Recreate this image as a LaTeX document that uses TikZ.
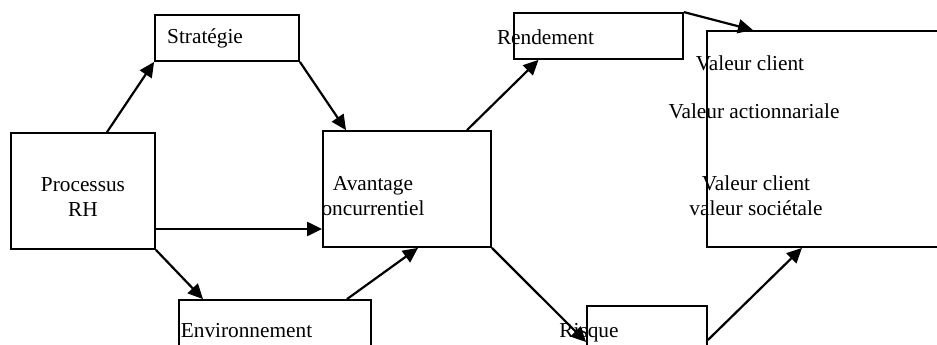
\documentclass[tikz,border=0pt]{standalone}
\usepackage{fontspec}
\setmainfont{Liberation Serif}
\usetikzlibrary{arrows.meta}
\tikzset{
  box/.style={draw=black, line width=1.8pt, rectangle, inner sep=0pt, fill=none},
  lbl/.style={inner sep=0pt, font=\fontsize{21.3pt}{25pt}\selectfont, align=center},
  arr/.style={line width=2.2pt, -{Triangle[length=15pt,width=14pt]}}
}
\begin{document}
\begin{tikzpicture}[x=1pt,y=-1pt]
\useasboundingbox (0,0) rectangle (937,345);
\fill[white] (0,0) rectangle (937,345);
\begin{scope}
\clip (0,0) rectangle (937,345);
% boxes
\node[box, minimum width=144pt, minimum height=116pt] (proc) at (83,191) {};
\node[box, minimum width=144pt, minimum height=46pt] (strat) at (227,38) {};
\node[box, minimum width=192pt, minimum height=70pt] (env) at (275,335) {};
\node[box, minimum width=168pt, minimum height=116pt] (avant) at (407,189) {};
\node[box, minimum width=169pt, minimum height=46pt] (rend) at (598.5,36) {};
\node[box, minimum width=120pt, minimum height=74pt] (risq) at (647,343) {};
\node[box, minimum width=260pt, minimum height=216pt] (val) at (837,139) {};
% texts
\node[lbl, anchor=west] (tstrat) at (167,38) {Stratégie};
\node[lbl] (tproc) at (83,197) {Processus\\RH};
\node[lbl] (tavant) at (373,196) {Avantage\\oncurrentiel};
\node[lbl] (trend) at (545.5,37) {Rendement};
\node[lbl] (tenv) at (246.5,331) {Environnement};
\node[lbl] (trisq) at (589,333) {Risque};
\node[lbl] (tv1) at (750,63) {Valeur client};
\node[lbl] (tv2) at (754,111) {Valeur actionnariale};
\node[lbl] (tv3) at (756,196) {Valeur client\\valeur sociétale};
% arrows
\draw[arr] ([xshift=24pt]proc.north) -- (strat.south west);
\draw[arr] (strat.south east) -- ([xshift=-61pt]avant.north);
\draw[arr] ([yshift=-38pt]proc.east) -- ([yshift=-40pt]avant.west);
\draw[arr] (proc.south east) -- ([xshift=-72pt]env.north);
\draw[arr] ([xshift=72pt]env.north) -- ([xshift=11pt]avant.south);
\draw[arr] ([xshift=60pt]avant.north) -- ([xshift=-60pt]rend.south);
\draw[arr] (avant.south east) -- ([yshift=1pt]risq.west);
\draw[arr] (rend.north east) -- ([xshift=-84pt]val.north);
\draw[arr] ([yshift=3pt]risq.east) -- ([xshift=-35pt]val.south);
\end{scope}
\end{tikzpicture}
\end{document}
